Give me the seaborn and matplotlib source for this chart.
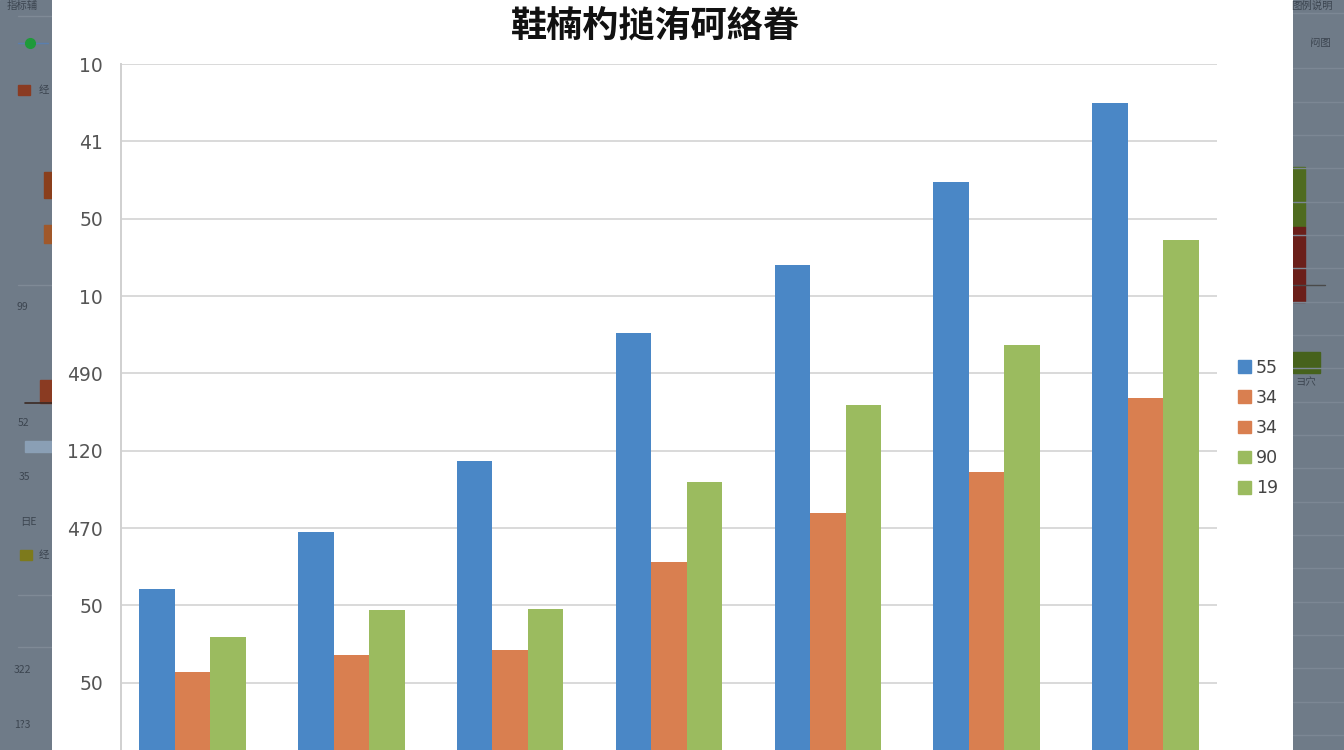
import matplotlib
matplotlib.use("Agg")
import matplotlib.pyplot as plt
import matplotlib.patches as mpatches
import pandas as pd
import seaborn as sns

# data
groups = ["1", "2", "3", "4", "5", "6", "7"]
blue_vals = [2.21, 2.95, 3.86, 5.52, 6.40, 7.48, 8.50]
orange_vals = [1.14, 1.36, 1.42, 2.56, 3.19, 3.72, 4.68]
green_vals = [1.59, 1.94, 1.95, 3.60, 4.59, 5.37, 6.72]
series = ["A", "B", "C"]
colors = ["#4a87c6", "#d97f50", "#9bbb5f"]

ytick_pos = [1, 2, 3, 4, 5, 6, 7, 8, 9]
ytick_labels = ["50", "50", "470", "120", "490", "10", "50", "41", "10"]

legend_labels = ["55", "34", "34", "90", "19"]
legend_colors = ["#4a87c6", "#d97f50", "#d97f50", "#9bbb5f", "#9bbb5f"]

title = "鞋楠杓搥洧砢絡眷"

# faint background panels on both sides
side_color = "#6f7b88"
left_texts = [(22, 6, "指标辅"), (44, 90, "经"), (22, 307, "99"), (24, 423, "52"),
              (24, 477, "35"), (28, 522, "日E"), (44, 555, "经"), (22, 670, "322"), (22, 725, "1?3")]
right_texts = [(1312, 6, "图例说明"), (1320, 43, "闷图"), (1306, 382, "ヨ穴")]
side_lines_left = [16, 285, 595, 647]
side_lines_right = [13, 68, 102, 135, 168, 202, 235, 268, 302, 335, 368, 402, 435,
                    468, 502, 535, 568, 602, 635, 668, 702, 735]

df = pd.DataFrame({
    "group": groups * 3,
    "series": [s for s in series for _ in groups],
    "value": blue_vals + orange_vals + green_vals,
})

sns.set_theme(style="white")
plt.rcParams["font.family"] = ["DejaVu Sans", "Noto Sans CJK SC"]

fig = plt.figure(figsize=(13.44, 7.5), dpi=100)
fig.patch.set_facecolor("white")

# side panels (pixel coordinates)
axl = fig.add_axes([0, 0, 52 / 1344, 1])
axr = fig.add_axes([1293 / 1344, 0, 51 / 1344, 1])
for a, x0, x1 in [(axl, 0, 52), (axr, 1293, 1344)]:
    a.set_facecolor(side_color)
    a.set_xlim(x0, x1)
    a.set_ylim(750, 0)
    a.set_axis_off()
    a.add_patch(mpatches.Rectangle((x0, 0), x1 - x0, 750, color=side_color, zorder=0))
for y in side_lines_left:
    axl.plot([18, 52], [y, y], color="#7f8a96", lw=1)
for y in side_lines_right:
    axr.plot([1293, 1344], [y, y], color="#7c8794", lw=1)
for x, y, t in left_texts:
    axl.text(x, y, t, fontsize=7.5, color="#3c4550", ha="center", va="center",
             family=["Noto Sans CJK SC", "DejaVu Sans"])
for x, y, t in right_texts:
    axr.text(x, y, t, fontsize=7.5, color="#3c4550", ha="center", va="center",
             family=["Noto Sans CJK SC", "DejaVu Sans"])
axl.plot([18, 48], [43, 43], color="#5a7fae", lw=1)
axl.plot([30], [43], "o", color="#1f9a3a", ms=7)
axl.add_patch(mpatches.Rectangle((18, 85), 12, 10, color="#8a3b22"))
axl.add_patch(mpatches.Rectangle((44, 172), 8, 26, color="#8a3f1c"))
axl.add_patch(mpatches.Rectangle((44, 225), 8, 18, color="#a0582a"))
axl.add_patch(mpatches.Rectangle((40, 380), 12, 23, color="#8a3b22"))
axl.plot([25, 52], [403, 403], color="#3b2a24", lw=1.2)
axl.add_patch(mpatches.Rectangle((25, 441), 27, 11, color="#8a9fb5"))
axl.add_patch(mpatches.Rectangle((20, 550), 12, 10, color="#7d7a1c"))
axr.add_patch(mpatches.Rectangle((1293, 167), 12, 60, color="#4f6b1f"))
axr.add_patch(mpatches.Rectangle((1293, 227), 12, 75, color="#6b1f1a"))
axr.plot([1293, 1325], [285, 285], color="#4a4a4a", lw=1)
axr.add_patch(mpatches.Rectangle((1293, 352), 27, 21, color="#46621c"))

# main chart
ax = fig.add_axes([121 / 1344, -10 / 750, 1096 / 1344, 696 / 750])
sns.barplot(data=df, x="group", y="value", hue="series", hue_order=series,
            palette=colors, saturation=1, width=0.67, errorbar=None,
            ax=ax, legend=False, linewidth=0)
ax.set_xlim(-0.45, 6.45)
ax.set_ylim(0, 9)
ax.set_yticks(ytick_pos)
ax.set_yticklabels(ytick_labels, fontsize=13.5, color="#555555")
ax.set_xticks([])
ax.set_xlabel("")
ax.set_ylabel("")
ax.yaxis.grid(True, color="#d9d9d9", lw=1.4)
ax.set_axisbelow(True)
for s in ["top", "right", "bottom"]:
    ax.spines[s].set_visible(False)
ax.spines["left"].set_color("#d0d0d0")
ax.spines["left"].set_linewidth(1.4)
ax.tick_params(axis="y", length=4, color="#d0d0d0", width=1.2, pad=9)

handles = [mpatches.Patch(color=c) for c in legend_colors]
fig.legend(handles, legend_labels, loc="center left",
           bbox_to_anchor=(1222 / 1344, 1 - 428 / 750), frameon=False,
           fontsize=12.5, handlelength=0.75, handleheight=0.75,
           handletextpad=0.3, labelspacing=0.7, labelcolor="#444444")

fig.text(655 / 1344, 1 - 26 / 750, title, ha="center", va="center",
         fontsize=26, fontweight="bold", color="#111111",
         family=["Noto Sans CJK SC", "DejaVu Sans"])

fig.savefig("out.png", dpi=100)
